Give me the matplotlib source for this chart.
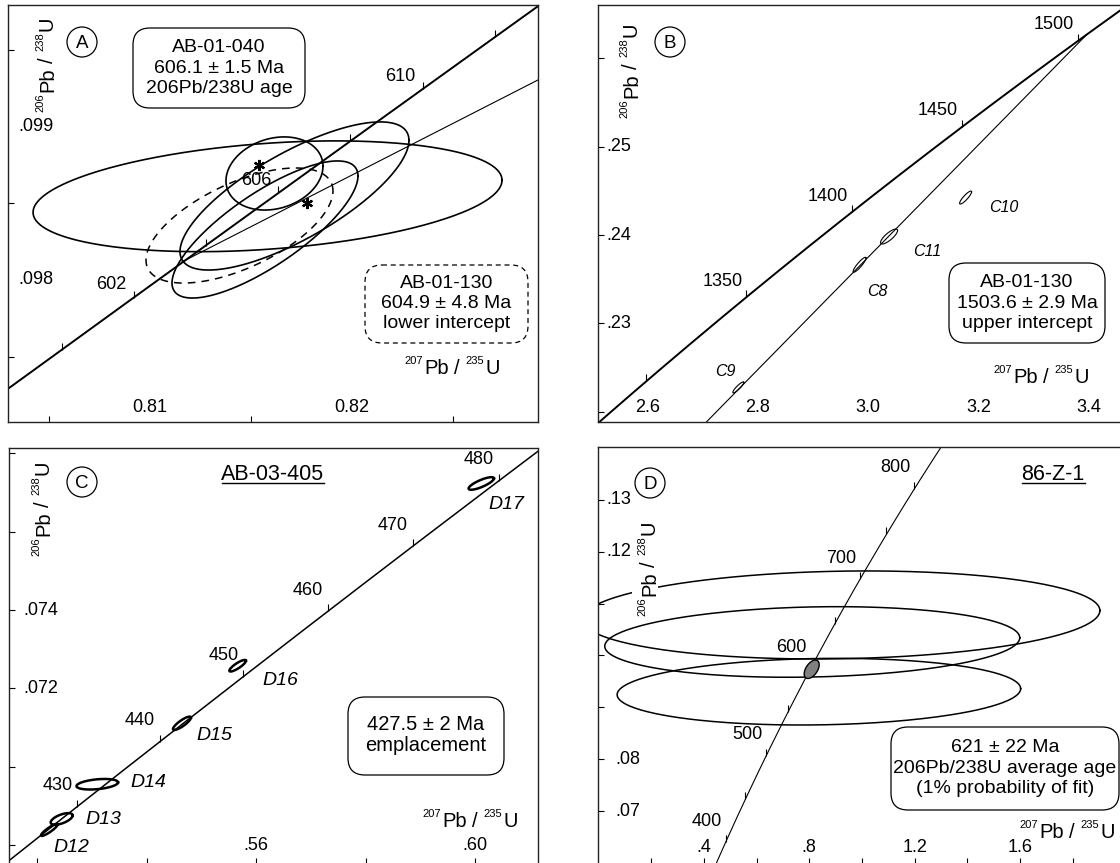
import numpy as np
import matplotlib
matplotlib.use("Agg")
import matplotlib.pyplot as plt
from matplotlib.patches import FancyBboxPatch, Circle, Rectangle
from matplotlib.lines import Line2D
from matplotlib.transforms import Affine2D, blended_transform_factory

plt.rcParams['font.family'] = ['Liberation Sans', 'DejaVu Sans']

# decay constants (1/yr)
LAM238 = 1.55125e-10
LAM235 = 9.8485e-10

# ---------------- data ----------------
# A : AB-01-040 and AB-01-130 (x, sx, y, sy, rho)
a_ticks = [600, 602, 604, 606, 608, 610, 612]
a_labels = [602, 606, 610]
a_ell_solid = [
    (0.81582, 0.01161, 0.098547, 0.000362, 0.29),
    (0.817153, 0.005668, 0.098549, 0.000484, 0.75),
    (0.816163, 0.002401, 0.098696, 0.000239, 0.20),
    (0.815693, 0.004604, 0.098330, 0.000448, 0.78),
]
a_ell_dashed = [(0.814431, 0.004629, 0.098356, 0.000376, 0.60)]
a_star_x = [0.815396, 0.817772]
a_star_y = [0.098752, 0.098503]
a_disc_x = [0.811584, 0.829208]
a_disc_y = [0.098118, 0.099307]

# B : AB-01-130
b_ticks = [1300, 1350, 1400, 1450, 1500]
b_labels = [1350, 1400, 1450, 1500]
b_names = ['C9', 'C8', 'C11', 'C10']
b_ell = [
    (2.7647, 0.00998, 0.22275, 0.000623, 0.90),
    (2.9846, 0.0118, 0.23663, 0.000849, 0.90),
    (3.0381, 0.01542, 0.23983, 0.000849, 0.80),
    (3.1769, 0.01088, 0.24424, 0.000736, 0.88),
]
b_upper_age = 1503.6
b_disc_low = (2.60, 0.21204)

# C : AB-03-405
c_ticks = [430, 440, 450, 460, 470, 480]
c_labels = [430, 440, 450, 460, 470, 480]
c_names = ['D12', 'D13', 'D14', 'D15', 'D16', 'D17']
c_ell = [
    (0.52216, 0.001517, 0.068382, 0.000153, 0.90),
    (0.52442, 0.002011, 0.068663, 0.000148, 0.60),
    (0.53093, 0.003803, 0.069549, 0.000135, 0.35),
    (0.54642, 0.001645, 0.071106, 0.000171, 0.85),
    (0.5566, 0.001517, 0.072577, 0.000148, 0.85),
    (0.60115, 0.002322, 0.077234, 0.000161, 0.80),
]

# D : 86-Z-1
d_ticks = [400, 450, 500, 550, 600, 650, 700, 750, 800]
d_labels = [400, 500, 600, 700, 800]
d_ell = [
    (0.9203, 0.983, 0.10782, 0.00849, 0.10),
    (0.8112, 0.7878, 0.10261, 0.00681, 0.12),
    (0.8364, 0.766, 0.09302, 0.00643, 0.09),
]
d_mean = (0.80911, 0.02847, 0.09734, 0.001775, 0.50)

# ---------------- helpers ----------------
W, H = 1120, 863
fig = plt.figure(figsize=(W / 100, H / 100), dpi=100)
renderer = fig.canvas.get_renderer()
PX = Affine2D().scale(1, -1).translate(0, H)  # picture pixels, y down


def concordia(t_ma):
    t = np.asarray(t_ma, dtype=float) * 1e6
    return np.exp(LAM235 * t) - 1, np.exp(LAM238 * t) - 1


def ellipse_xy(x, sx, y, sy, rho, n=300):
    t = np.linspace(0, 2 * np.pi, n)
    u, v = np.cos(t), np.sin(t)
    return x + sx * u, y + sy * (rho * u + np.sqrt(1 - rho ** 2) * v)


def panel(box, xlim, ylim, hide):
    l, t, r, b = box
    ax = fig.add_axes([l / W, 1 - b / H, (r - l) / W, (b - t) / H])
    ax.set_xlim(xlim)
    ax.set_ylim(ylim)
    for s in hide:
        ax.spines[s].set_visible(False)
    for s in ax.spines.values():
        s.set_linewidth(1.0)
        s.set_color('#222222')
    ax.tick_params(direction='in', length=4.5, width=0.8,
                   labelbottom=False, labelleft=False)
    return ax


def xnums(ax, box, vals, texts, py):
    tr = blended_transform_factory(ax.transData, ax.transAxes)
    f = (box[3] - py) / (box[3] - box[1])
    for v, s in zip(vals, texts):
        ax.text(v, f, s, transform=tr, ha='center', va='center', fontsize=13)


def ynums(ax, box, vals, texts, px):
    tr = blended_transform_factory(ax.transAxes, ax.transData)
    f = (px - box[0]) / (box[2] - box[0])
    for v, s in zip(vals, texts):
        ax.text(f, v, s, transform=tr, ha='left', va='center', fontsize=13)


def draw_concordia(ax, trange, ticks, labels, lw, off):
    cx, cy = concordia(np.linspace(trange[0], trange[1], 800))
    ax.plot(cx, cy, color='black', lw=lw)
    kx, ky = concordia(ticks)
    ax.plot(kx, ky, ls='none', marker=2, ms=5, mew=0.8, color='black')
    for a in labels:
        lx, ly = concordia(a)
        ax.annotate(str(a), (lx, ly), xytext=off, textcoords='offset pixels',
                    ha='center', va='center', fontsize=13)


def ftext(x, y, s, **kw):
    return fig.text(x, y, s, transform=PX, **kw)


def text_w(s, size):
    t = fig.text(0, 0, s, fontsize=size)
    w = t.get_window_extent(renderer).width
    t.remove()
    return w


SUP_PT, BIG_PT, RAISE = 8, 14.5, 10


def iso_label(sup1, sup2, x, y, vertical=False, white=False):
    # x/y: right end + baseline (horizontal) or baseline + centre (vertical)
    pieces = [(sup1, SUP_PT, True), ('Pb', BIG_PT, False), ('/', BIG_PT, False),
              (sup2, SUP_PT, True), ('U', BIG_PT, False)]
    gaps = [1.5, 4.5, 6.0, 1.5, 0]
    widths = [text_w(s, sz) for s, sz, _ in pieces]
    total = sum(widths) + sum(gaps)
    if white:
        fig.add_artist(Rectangle((x - 23, y - total / 2 - 3), 26, total + 6,
                                 transform=PX, fc='white', ec='none'))
    cur = x - total if not vertical else y + total / 2
    for (s, sz, sup), w, g in zip(pieces, widths, gaps):
        r = RAISE if sup else 0
        if not vertical:
            ftext(cur, y - r, s, fontsize=sz, ha='left', va='baseline')
            cur += w + g
        else:
            ftext(x - r, cur, s, fontsize=sz, rotation=90, rotation_mode='anchor',
                  ha='left', va='baseline')
            cur -= w + g


def rbox(x0, y0, x1, y1, lines, ys, ls='-', size=14):
    p = FancyBboxPatch((x0, y0), x1 - x0, y1 - y0,
                       boxstyle='round,pad=0,rounding_size=17',
                       transform=PX, fc='white', ec='black', lw=0.9, ls=ls)
    fig.add_artist(p)
    for s, y in zip(lines, ys):
        ftext((x0 + x1) / 2, y, s, ha='center', va='center', fontsize=size)


def letter(x, y, s):
    fig.add_artist(Circle((x, y), 15, transform=PX, fill=False, lw=0.9, ec='black'))
    ftext(x, y + 1, s, ha='center', va='center', fontsize=13.5)


def title(x, y, s, x0, x1):
    ftext(x, y, s, ha='center', va='center', fontsize=15.5)
    fig.add_artist(Line2D([x0, x1], [y + 9, y + 9], transform=PX, color='black', lw=1))


# ---------------- panel A ----------------
boxA = (8, 5, 538, 422)
axA = panel(boxA, (0.80297, 0.82921), (0.097072, 0.099797), [])
axA.set_xticks([0.805, 0.815, 0.825])
axA.set_yticks([0.0975, 0.0985, 0.0995])
xnums(axA, boxA, [0.81, 0.82], ['0.81', '0.82'], 408)
ynums(axA, boxA, [0.099, 0.098], ['.099', '.098'], 18)
axA.plot(a_disc_x, a_disc_y, color='black', lw=0.8)
draw_concordia(axA, (598, 614), a_ticks, a_labels, 1.4, (-22, 13))
for e in a_ell_solid:
    axA.plot(*ellipse_xy(*e), color='black', lw=1.2)
for e in a_ell_dashed:
    axA.plot(*ellipse_xy(*e), color='black', lw=1.1, ls=(0, (5, 4)))
axA.plot(a_star_x, a_star_y, ls='none', marker=(6, 2, 0), ms=8, mew=1.6, color='black')
iso_label('206', '238', 53, 64, vertical=True)
iso_label('207', '235', 500, 374)
letter(82, 42, 'A')
rbox(133, 28, 305, 108, ['AB-01-040', '606.1 \u00b1 1.5 Ma', '206Pb/238U age'], [47, 68, 88])
rbox(365, 265, 528, 343, ['AB-01-130', '604.9 \u00b1 4.8 Ma', 'lower intercept'],
     [283, 303, 323], ls=(0, (4, 3)))

# ---------------- panel B ----------------
boxB = (597.5, 5, 1125, 422)
axB = panel(boxB, (2.5093, 3.466), (0.21883, 0.26604), ['right'])
axB.set_xticks([])
axB.set_yticks([0.22, 0.23, 0.24, 0.25, 0.26])
xnums(axB, boxB, [2.6, 2.8, 3.0, 3.2, 3.4], ['2.6', '2.8', '3.0', '3.2', '3.4'], 408)
ynums(axB, boxB, [0.25, 0.24, 0.23], ['.25', '.24', '.23'], 606)
ux, uy = concordia(b_upper_age)
axB.plot([b_disc_low[0], ux], [b_disc_low[1], uy], color='black', lw=0.8)
draw_concordia(axB, (1250, 1560), b_ticks, b_labels, 1.4, (-24, 16))
for e in b_ell:
    axB.plot(*ellipse_xy(*e), color='black', lw=0.8)
for s, (x, y) in zip(b_names, [(725, 371), (877, 291), (927, 251), (1004, 207)]):
    ftext(x, y, s, ha='center', va='center', fontsize=11.5, style='italic')
iso_label('206', '238', 637, 70, vertical=True)
iso_label('207', '235', 1089, 383)
letter(670, 42, 'B')
rbox(949, 263, 1105, 343, ['AB-01-130', '1503.6 \u00b1 2.9 Ma', 'upper intercept'], [282, 303, 323])

# ---------------- panel C ----------------
boxC = (9, 448, 537.5, 866)
axC = panel(boxC, (0.51479, 0.61143), (0.06746, 0.07814), ['bottom'])
axC.set_xticks([0.52, 0.54, 0.56, 0.58, 0.60])
axC.set_yticks([0.068, 0.070, 0.072, 0.074, 0.076, 0.078])
axC.tick_params(axis='x', length=6)
xnums(axC, boxC, [0.56, 0.60], ['.56', '.60'], 845)
ynums(axC, boxC, [0.074, 0.072], ['.074', '.072'], 23)
draw_concordia(axC, (415, 495), c_ticks, c_labels, 1.1, (-20, 21))
for e in c_ell:
    axC.plot(*ellipse_xy(*e), color='black', lw=1.8)
for s, (x, y) in zip(c_names, [(71, 847), (103, 819), (148, 782), (214, 735), (280, 680), (506, 504)]):
    ftext(x, y, s, ha='center', va='center', fontsize=14, style='italic')
iso_label('206', '238', 49, 508, vertical=True)
iso_label('207', '235', 518, 827)
letter(82, 482, 'C')
title(273, 474, 'AB-03-405', 222, 324)
rbox(348, 697, 504, 775, ['427.5 \u00b1 2 Ma', 'emplacement'], [724, 745], size=14.5)

# ---------------- panel D ----------------
boxD = (597.5, 446.7, 1125, 866)
axD = panel(boxD, (-0.0041, 1.9986), (0.05939, 0.14028), ['right', 'bottom'])
axD.set_xticks([0.2, 0.4, 0.6, 0.8, 1.0, 1.2, 1.4, 1.6, 1.8])
axD.set_yticks([0.07, 0.08, 0.09, 0.10, 0.11, 0.12, 0.13])
axD.tick_params(axis='x', length=6)
xnums(axD, boxD, [0.4, 0.8, 1.2, 1.6], ['.4', '.8', '1.2', '1.6'], 847)
ynums(axD, boxD, [0.13, 0.12], ['.13', '.12'], 606)
ynums(axD, boxD, [0.08, 0.07], ['.08', '.07'], 615)
draw_concordia(axD, (350, 900), d_ticks, d_labels, 0.8, (-19, 21))
for e in d_ell:
    axD.plot(*ellipse_xy(*e), color='black', lw=1.1)
mx, my = ellipse_xy(*d_mean)
axD.fill(mx, my, fc='#808080', ec='black', lw=1.0, zorder=3)
iso_label('206', '238', 655, 568, vertical=True, white=True)
iso_label('207', '235', 1115, 838)
letter(650, 483, 'D')
title(1053, 474, '86-Z-1', 1022, 1085)
rbox(891, 727, 1119, 810, ['621 \u00b1 22 Ma', '206Pb/238U average age', '(1% probability of fit)'],
     [747, 768, 788])

fig.savefig('out.png', dpi=100)
